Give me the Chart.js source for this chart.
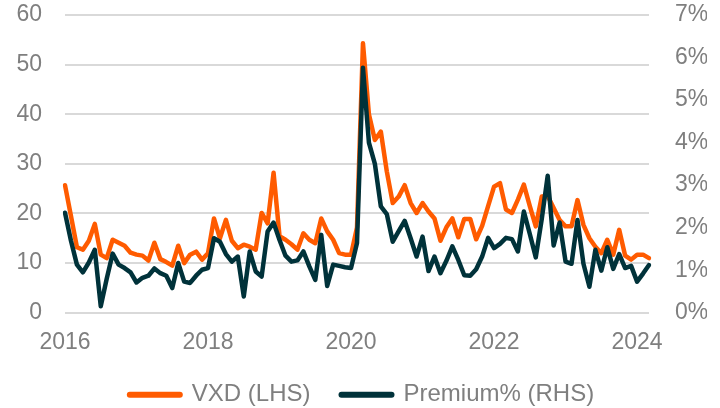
<!DOCTYPE html>
<html>
<head>
<meta charset="utf-8">
<script src="https://cdn.jsdelivr.net/npm/chart.js@4.4.1/dist/chart.umd.min.js"></script>
<style>
  html, body { margin: 0; padding: 0; background: #fff; }
  #wrap { width: 720px; height: 408px; }
</style>
</head>
<body>
<div id="wrap"><canvas id="chart"></canvas></div>
<script>
// monthly points, Jan 2016 - Mar 2024
const firstYear = 2016;
const monthCount = 99;
const months = [];
for (let i = 0; i < monthCount; i++) {
  const y = firstYear + Math.floor(i / 12);
  const m = (i % 12) + 1;
  months.push(y + "-" + String(m).padStart(2, "0"));
}
const yearTicks = ["2016", "2018", "2020", "2022", "2024"];

// VXD index level (left axis)
const vxd = [
  25.7, 19.5, 13.2, 12.7, 14.5, 17.9, 11.7, 11.0, 14.7, 14.1, 13.5, 12.1,
  11.7, 11.5, 10.5, 14.1, 10.8, 10.2, 9.5, 13.5, 10.0, 11.7, 12.3, 10.7,
  12.0, 19.0, 15.0, 18.7, 14.5, 13.0, 13.7, 13.3, 12.7, 20.1, 18.0, 28.2,
  15.4, 14.7, 13.8, 12.7, 16.0, 14.7, 14.0, 19.0, 16.4, 14.7, 12.0, 11.7,
  11.7, 17.2, 54.3, 40.0, 34.8, 36.5, 28.5, 22.1, 23.4, 25.7, 22.1, 20.1,
  22.1, 20.4, 19.0, 14.5, 17.2, 19.0, 15.2, 18.9, 18.9, 14.8, 17.5, 21.5,
  25.4, 26.1, 20.8, 20.1, 22.8, 25.8, 21.5, 17.4, 23.4, 23.5, 21.1, 18.7,
  17.4, 17.4, 22.7, 17.7, 15.0, 13.3, 12.0, 14.7, 11.7, 16.7, 11.5, 10.7,
  11.7, 11.7, 11.0
];

// Premium in % (right axis)
const premium = [
  2.35, 1.69, 1.13, 0.95, 1.18, 1.48, 0.15, 0.80, 1.39, 1.13, 1.05, 0.95,
  0.71, 0.82, 0.87, 1.04, 0.93, 0.87, 0.58, 1.17, 0.73, 0.70, 0.87, 1.01,
  1.05, 1.75, 1.67, 1.38, 1.20, 1.32, 0.38, 1.44, 0.97, 0.85, 1.91, 2.12,
  1.71, 1.34, 1.20, 1.23, 1.44, 1.09, 0.77, 1.83, 0.63, 1.13, 1.10, 1.07,
  1.05, 1.64, 5.76, 4.00, 3.50, 2.50, 2.32, 1.67, 1.92, 2.16, 1.75, 1.32,
  1.79, 0.98, 1.32, 0.93, 1.22, 1.56, 1.24, 0.88, 0.87, 1.02, 1.32, 1.76,
  1.52, 1.62, 1.76, 1.73, 1.44, 2.38, 1.85, 1.30, 2.20, 3.22, 1.58, 2.12,
  1.20, 1.15, 2.18, 1.15, 0.61, 1.48, 0.99, 1.54, 1.03, 1.38, 1.05, 1.10,
  0.73, 0.92, 1.12
];

const orange = "#ff5b00";
const navy = "#00323a";
const grey = "#7f7f7f";

Chart.defaults.font.family = "'Liberation Sans', Arial, sans-serif";
Chart.defaults.font.size = 23;
Chart.defaults.color = grey;

// fixed axis sizes so the plot lands where the reference has it
function fixWidth(w) {
  return (scale) => {
    scale.width = w;
    scale.paddingTop = 0;
    scale.paddingBottom = 0;
  };
}

new Chart(document.getElementById("chart"), {
  type: "line",
  data: {
    labels: months,
    datasets: [
      {
        label: "VXD (LHS)",
        data: vxd,
        yAxisID: "y",
        borderColor: orange,
        backgroundColor: orange,
        borderWidth: 4.5,
        borderJoinStyle: "round",
        borderCapStyle: "round",
        pointRadius: 0,
        order: 2,
      },
      {
        label: "Premium% (RHS)",
        data: premium,
        yAxisID: "y1",
        borderColor: navy,
        backgroundColor: navy,
        borderWidth: 4.5,
        borderJoinStyle: "round",
        borderCapStyle: "round",
        pointRadius: 0,
        order: 1,
      },
    ],
  },
  options: {
    responsive: true,
    maintainAspectRatio: false,
    animation: false,
    layout: { autoPadding: false, padding: { left: 17, right: 13, top: 15, bottom: -8.7 } },
    scales: {
      x: {
        grid: { display: false, drawTicks: false },
        border: { display: false },
        ticks: {
          autoSkip: false,
          maxRotation: 0,
          padding: 18.5,
          font: { lineHeight: 1 },
          callback: (v, i) => {
            const l = months[i];
            return l.endsWith("-01") && yearTicks.includes(l.slice(0, 4)) ? l.slice(0, 4) : "";
          },
        },
        afterFit: (scale) => {
          scale.height = 39;
          scale.paddingLeft = 0;
          scale.paddingRight = 0;
        },
      },
      y: {
        position: "left",
        min: 0,
        max: 60,
        ticks: { stepSize: 10, padding: 23 },
        grid: { color: "#d9d9d9", lineWidth: 2, drawTicks: false },
        border: { display: false },
        afterFit: fixWidth(48),
      },
      y1: {
        position: "right",
        min: 0,
        max: 7,
        ticks: { stepSize: 1, padding: 26, callback: (v) => v + "%" },
        grid: { display: false, drawTicks: false },
        border: { display: false },
        afterFit: fixWidth(58),
      },
    },
    plugins: {
      tooltip: { enabled: false },
      legend: {
        position: "bottom",
        labels: {
          usePointStyle: true,
          pointStyleWidth: 50,
          boxHeight: 6,
          padding: 31,
          color: grey,
          font: { size: 24 },
          generateLabels: (chart) =>
            chart.data.datasets.map((ds, i) => ({
              text: ds.label,
              datasetIndex: i,
              fillStyle: ds.borderColor,
              strokeStyle: ds.borderColor,
              lineWidth: 6,
              lineCap: "round",
              pointStyle: "line",
              hidden: false,
              fontColor: grey,
            })),
        },
      },
    },
  },
});
</script>
</body>
</html>
